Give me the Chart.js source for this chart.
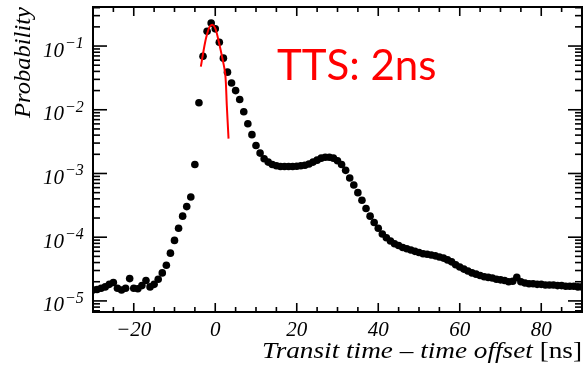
<!DOCTYPE html>
<html>
<head>
<meta charset="utf-8">
<script src="https://cdn.jsdelivr.net/npm/chart.js@4.4.0/dist/chart.umd.min.js"></script>
<style>
  html, body { margin: 0; padding: 0; background: #fff; }
  #wrap { width: 588px; height: 369px; }
</style>
</head>
<body>
<div id="wrap"><canvas id="ttsChart" width="588" height="369"></canvas></div>
<script>
// --- Data (1 ns bins) ---

const timeNs = [
  -30, -29, -28, -27, -26, -25, -24, -23, -22, -21,
  -20, -19, -18, -17, -16, -15, -14, -13, -12, -11,
  -10, -9, -8, -7, -6, -5, -4, -3, -2, -1,
  0, 1, 2, 3, 4, 5, 6, 7, 8, 9,
  10, 11, 12, 13, 14, 15, 16, 17, 18, 19,
  20, 21, 22, 23, 24, 25, 26, 27, 28, 29,
  30, 31, 32, 33, 34, 35, 36, 37, 38, 39,
  40, 41, 42, 43, 44, 45, 46, 47, 48, 49,
  50, 51, 52, 53, 54, 55, 56, 57, 58, 59,
  60, 61, 62, 63, 64, 65, 66, 67, 68, 69,
  70, 71, 72, 73, 74, 75, 76, 77, 78, 79,
  80, 81, 82, 83, 84, 85, 86, 87, 88, 89,
  90,
];

const probability = [
  1.48e-5, 1.51e-5, 1.58e-5, 1.66e-5, 1.82e-5, 1.95e-5, 1.58e-5, 1.48e-5, 1.58e-5, 2.24e-5,
  1.58e-5, 1.55e-5, 1.74e-5, 2.09e-5, 1.66e-5, 1.82e-5, 2.19e-5, 2.75e-5, 3.63e-5, 5.62e-5,
  8.91e-5, 1.38e-4, 2.14e-4, 3.02e-4, 4.27e-4, 1.38e-3, 1.29e-2, 6.92e-2, 0.170, 0.229,
  0.186, 0.115, 0.0646, 0.0389, 0.0263, 0.0200, 0.0145, 0.00933, 0.00603, 0.00407,
  0.00275, 0.00209, 0.00170, 0.00151, 0.00138, 0.00132, 0.00129, 0.00129, 0.00129, 0.00129,
  0.00130, 0.00132, 0.00135, 0.00141, 0.00151, 0.00162, 0.00174, 0.00180, 0.00180, 0.00174,
  0.00158, 0.00138, 0.00112, 8.5e-4, 6.6e-4, 5.0e-4, 3.8e-4, 2.82e-4, 2.14e-4, 1.70e-4,
  1.38e-4, 1.12e-4, 9.8e-5, 8.7e-5, 7.9e-5, 7.4e-5, 6.9e-5, 6.6e-5, 6.3e-5, 6.0e-5,
  5.75e-5, 5.5e-5, 5.4e-5, 5.25e-5, 5.1e-5, 4.9e-5, 4.7e-5, 4.4e-5, 4.1e-5, 3.7e-5,
  3.4e-5, 3.16e-5, 2.95e-5, 2.75e-5, 2.63e-5, 2.51e-5, 2.40e-5, 2.34e-5, 2.29e-5, 2.19e-5,
  2.14e-5, 2.09e-5, 2.0e-5, 2.04e-5, 2.34e-5, 2.0e-5, 1.91e-5, 1.86e-5, 1.86e-5, 1.82e-5,
  1.82e-5, 1.78e-5, 1.78e-5, 1.78e-5, 1.74e-5, 1.74e-5, 1.70e-5, 1.70e-5, 1.70e-5, 1.66e-5,
  1.66e-5,
];

// red gaussian fit, sampled along the drawn curve
const fitTimeNs = [-3.53, -2.87, -2.21, -1.40, -0.66, 0.07, 0.81, 1.62, 2.45, 2.84, 3.26];
const fitProbability = [0.0475, 0.0845, 0.137, 0.200, 0.215, 0.185, 0.121, 0.0705, 0.0365, 0.01155, 0.00352];

// --- Axis labels ---
const xTickValues = [-20, 0, 20, 40, 60, 80];
const xTickLabels = ['\u221220', '0', '20', '40', '60', '80'];
const yLabelExponents = [-1, -2, -3, -4, -5];
const xTitleItalic = 'Transit time \u2013 time offset';
const xTitleUnit = ' [ns]';
const yTitle = 'Probability';
const annotation = 'TTS: 2ns';

const SERIF = "'Liberation Serif', 'DejaVu Serif', serif";

// --- Frame, inward ticks and text (ROOT look) ---
const rootFrame = {
  id: 'rootFrame',
  afterDraw(chart) {
    const { ctx, chartArea: a, scales: { x, y } } = chart;
    ctx.save();
    ctx.strokeStyle = '#000';

    const line = (x1, y1, x2, y2) => {
      ctx.beginPath();
      ctx.moveTo(x1, y1);
      ctx.lineTo(x2, y2);
      ctx.stroke();
    };

    ctx.lineWidth = 1.6;
    x.ticks.forEach(t => {
      const px = x.getPixelForValue(t.value);
      const len = t.value % 20 === 0 ? 9 : 5;
      line(px, a.bottom, px, a.bottom - len);
      line(px, a.top, px, a.top + len);
    });
    y.ticks.forEach(t => {
      const py = y.getPixelForValue(t.value);
      const mant = t.value / Math.pow(10, Math.floor(Math.log10(t.value) + 1e-9));
      const len = Math.abs(mant - 1) < 1e-6 ? 14 : 7;
      line(a.left, py, a.left + len, py);
      line(a.right, py, a.right - len, py);
    });

    ctx.lineWidth = 2;
    ctx.strokeRect(a.left, a.top, a.width, a.height);

    // y tick labels 10^-n
    ctx.fillStyle = '#000';
    ctx.textAlign = 'left';
    ctx.textBaseline = 'alphabetic';
    yLabelExponents.forEach(k => {
      const py = y.getPixelForValue(Math.pow(10, k));
      ctx.font = `italic 21px ${SERIF}`;
      ctx.fillText('10', 43, py + 10.5);
      const w = ctx.measureText('10').width;
      ctx.font = `italic 16px ${SERIF}`;
      ctx.fillText('\u2212' + (-k), 43 + w + 1, py + 2);
    });

    // y title, stretched a bit along its length like the original
    ctx.save();
    ctx.font = `italic 23px ${SERIF}`;
    const wY = ctx.measureText(yTitle).width;
    ctx.translate(30, a.top + 111);
    ctx.rotate(-Math.PI / 2);
    ctx.scale(111 / wY, 1);
    ctx.textAlign = 'left';
    ctx.fillText(yTitle, 0, 0);
    ctx.restore();

    // x title, right aligned to the frame, spanning x 262..584
    ctx.save();
    ctx.font = `23px ${SERIF}`;
    const wUnit = ctx.measureText(xTitleUnit).width;
    ctx.font = `italic 23px ${SERIF}`;
    const wIt = ctx.measureText(xTitleItalic).width;
    const span = a.right - 262;
    ctx.translate(262, 358);
    ctx.scale(span / (wIt + wUnit), 1);
    ctx.textAlign = 'left';
    ctx.fillText(xTitleItalic, 0, 0);
    ctx.font = `23px ${SERIF}`;
    ctx.fillText(xTitleUnit, wIt, 0);
    ctx.restore();

    // annotation
    ctx.fillStyle = '#ff0000';
    ctx.font = "42px Lato, 'Open Sans', sans-serif";
    ctx.fillText(annotation, 277, 80);

    ctx.restore();
  },
};

function initChart() {
  const ctx = document.getElementById('ttsChart').getContext('2d');
  new Chart(ctx, {
    type: 'scatter',
    data: {
      datasets: [
        {
          label: 'fit',
          data: fitTimeNs.map((t, i) => ({ x: t, y: fitProbability[i] })),
          showLine: true,
          borderColor: '#ff0000',
          borderWidth: 2,
          pointRadius: 0,
          tension: 0.3,
          order: 0,
        },
        {
          label: 'data',
          data: timeNs.map((t, i) => ({ x: t, y: probability[i] })),
          backgroundColor: '#000',
          borderWidth: 0,
          pointRadius: 3.8,
          order: 1,
        },
      ],
    },
    options: {
      responsive: false,
      animation: false,
      events: [],
      layout: { padding: { top: 7, right: 4, left: 0, bottom: 0 } },
      plugins: {
        legend: { display: false },
        tooltip: { enabled: false },
      },
      scales: {
        x: {
          type: 'linear',
          min: -30,
          max: 90,
          grid: { display: false, drawTicks: false },
          border: { display: false },
          ticks: {
            stepSize: 5,
            autoSkip: false,
            maxRotation: 0,
            padding: 6,
            color: '#000',
            font: { family: SERIF, style: 'italic', size: 21 },
            callback: v => {
              const i = xTickValues.indexOf(v);
              return i >= 0 ? xTickLabels[i] : '';
            },
          },
          afterFit: scale => { scale.height = 57; },
        },
        y: {
          type: 'logarithmic',
          min: 6.7e-6,
          max: 0.41,
          grid: { display: false, drawTicks: false },
          border: { display: false },
          ticks: { display: false },
          afterBuildTicks: scale => {
            const ticks = [];
            for (let k = -6; k <= -1; k++) {
              for (let m = 1; m <= 9; m++) {
                const v = m * Math.pow(10, k);
                if (v >= scale.min && v <= scale.max) ticks.push({ value: v });
              }
            }
            scale.ticks = ticks;
          },
          afterFit: scale => { scale.width = 93; },
        },
      },
    },
    plugins: [rootFrame],
  });
}

document.addEventListener('DOMContentLoaded', initChart);
</script>
</body>
</html>
